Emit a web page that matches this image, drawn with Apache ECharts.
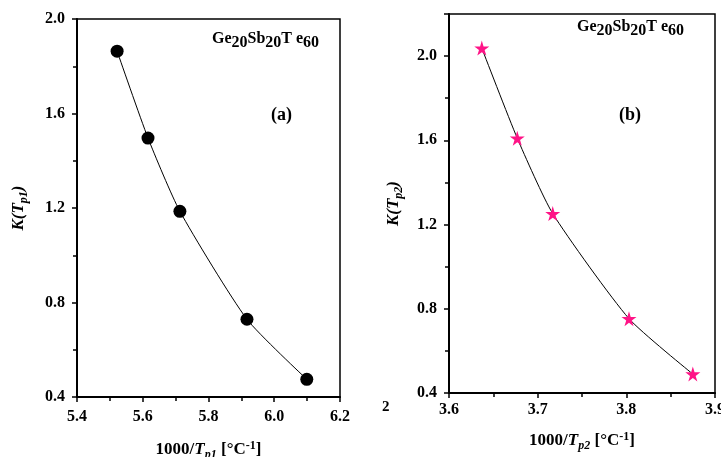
<!DOCTYPE html>
<html>
<head>
<meta charset="utf-8">
<script src="https://cdn.jsdelivr.net/npm/echarts@6/dist/echarts.min.js"></script>
<style>
	html, body { margin: 0; padding: 0; background: #fff; }
	#chart { width: 721px; height: 457px; }
</style>
</head>
<body>
<div id="chart"></div>
<script>
	//   panel (a) data
	var x_a = [5.522, 5.616, 5.713, 5.917, 6.099];
	var k_a = [1.864, 1.496, 1.186, 0.729, 0.475];
	//   panel (b) data
	var x_b = [3.637, 3.677, 3.717, 3.803, 3.875];
	var k_b = [2.038, 1.610, 1.252, 0.753, 0.490];

	var serif = '"Liberation Serif", "DejaVu Serif", serif';
	var star = 'path://M50,0 L61,35 L98,35 L68,57 L79,91 L50,70 L21,91 L32,57 L2,35 L39,35 Z';

	var pairs = function (xs, ys) {
		var out = [];
		for (var i = 0; i < xs.length; i++) {
			out.push([xs[i], ys[i]]);
		}
		return out;
	};

	//   rich styles for sub / superscripts
	var rich = {
		b: { fontFamily: serif, fontWeight: 'bold', fontSize: 17, color: '#000' },
		bi: { fontFamily: serif, fontWeight: 'bold', fontStyle: 'italic', fontSize: 17, color: '#000' },
		sub: { fontFamily: serif, fontWeight: 'bold', fontStyle: 'italic', fontSize: 12, color: '#000', padding: [10, 0, 0, 0] },
		sup: { fontFamily: serif, fontWeight: 'bold', fontSize: 12, color: '#000', padding: [0, 0, 8, 0] }
	};
	var richGe = {
		g: { fontFamily: serif, fontWeight: 'bold', fontSize: 16, color: '#000' },
		s: { fontFamily: serif, fontWeight: 'bold', fontSize: 16, color: '#000', padding: [8, 0, 0, 0] }
	};

	var xAxisBase = function (idx, min, max, interval, name, margin, nameGap) {
		return {
			type: 'value', gridIndex: idx, min: min, max: max, interval: interval,
			axisLine: { lineStyle: { color: '#000', width: 2 } },
			axisTick: { inside: false, length: 5, lineStyle: { color: '#000', width: 1.5 } },
			minorTick: { show: true, splitNumber: 2, length: 4, lineStyle: { color: '#000', width: 1.5 } },
			splitLine: { show: false },
			axisLabel: {
				color: '#000', fontFamily: serif, fontWeight: 'bold', fontSize: 16, margin: margin,
				formatter: function (v) { return v.toFixed(1); }
			},
			name: name, nameLocation: 'middle', nameGap: nameGap,
			nameTextStyle: { rich: rich }
		};
	};
	var yAxisBase = function (idx, min, max, name, nameGap) {
		return {
			type: 'value', gridIndex: idx, min: min, max: max, interval: 0.4,
			axisLine: { lineStyle: { color: '#000', width: 2 } },
			axisTick: { inside: false, length: 5, lineStyle: { color: '#000', width: 1.5 } },
			minorTick: { show: true, splitNumber: 2, length: 4, lineStyle: { color: '#000', width: 1.5 } },
			splitLine: { show: false },
			axisLabel: {
				color: '#000', fontFamily: serif, fontWeight: 'bold', fontSize: 16, margin: 12,
				showMaxLabel: max === 2.0,
				formatter: function (v) { return v.toFixed(1); }
			},
			name: name, nameLocation: 'middle', nameGap: nameGap, nameRotate: 90,
			nameTextStyle: { rich: rich }
		};
	};

	var chart = echarts.init(document.getElementById('chart'));
	var option = {
		animation: false,
		backgroundColor: '#fff',
		grid: [
			{ left: 77, top: 19, width: 263, height: 378, outerBoundsMode: 'none', show: true, borderColor: '#000', borderWidth: 1.5, backgroundColor: 'transparent' },
			{ left: 449, top: 14, width: 266, height: 379, outerBoundsMode: 'none', show: true, borderColor: '#000', borderWidth: 1.5, backgroundColor: 'transparent' }
		],
		xAxis: [
			xAxisBase(0, 5.4, 6.2, 0.2, '{b|1000/}{bi|T}{sub|p1}{b| [°C}{sup|-1}{b|]}', 12, 42),
			xAxisBase(1, 3.6, 3.9, 0.1, '{b|1000/}{bi|T}{sub|p2}{b| [°C}{sup|-1}{b|]}', 9, 37)
		],
		yAxis: [
			yAxisBase(0, 0.4, 2.0, '{bi|K(T}{sub|p1}{bi|)}', 47),
			yAxisBase(1, 0.4, 2.2, '{bi|K(T}{sub|p2}{bi|)}', 44)
		],
		series: [
			{
				type: 'line', xAxisIndex: 0, yAxisIndex: 0,
				data: pairs(x_a, k_a), smooth: 0.2,
				symbol: 'circle', symbolSize: 13,
				itemStyle: { color: '#000' },
				lineStyle: { color: '#000', width: 1 }
			},
			{
				type: 'line', xAxisIndex: 1, yAxisIndex: 1,
				data: pairs(x_b, k_b), smooth: 0.2,
				symbol: star, symbolSize: 15,
				itemStyle: { color: '#ff1487' },
				lineStyle: { color: '#000', width: 1 }
			}
		],
		graphic: [
			{ type: 'text', left: 212, top: 31, style: { text: '{g|Ge}{s|20}{g|Sb}{s|20}{g|T e}{s|60}', rich: richGe } },
			{ type: 'text', left: 577, top: 19, style: { text: '{g|Ge}{s|20}{g|Sb}{s|20}{g|T e}{s|60}', rich: richGe } },
			{ type: 'text', left: 271, top: 106, style: { text: '(a)', font: 'bold 18px ' + serif, fill: '#000' } },
			{ type: 'text', left: 619, top: 106, style: { text: '(b)', font: 'bold 18px ' + serif, fill: '#000' } },
			{ type: 'text', left: 382, top: 400, style: { text: '2', font: 'bold 15px ' + serif, fill: '#000' } }
		]
	};
	chart.setOption(option);
</script>
</body>
</html>
